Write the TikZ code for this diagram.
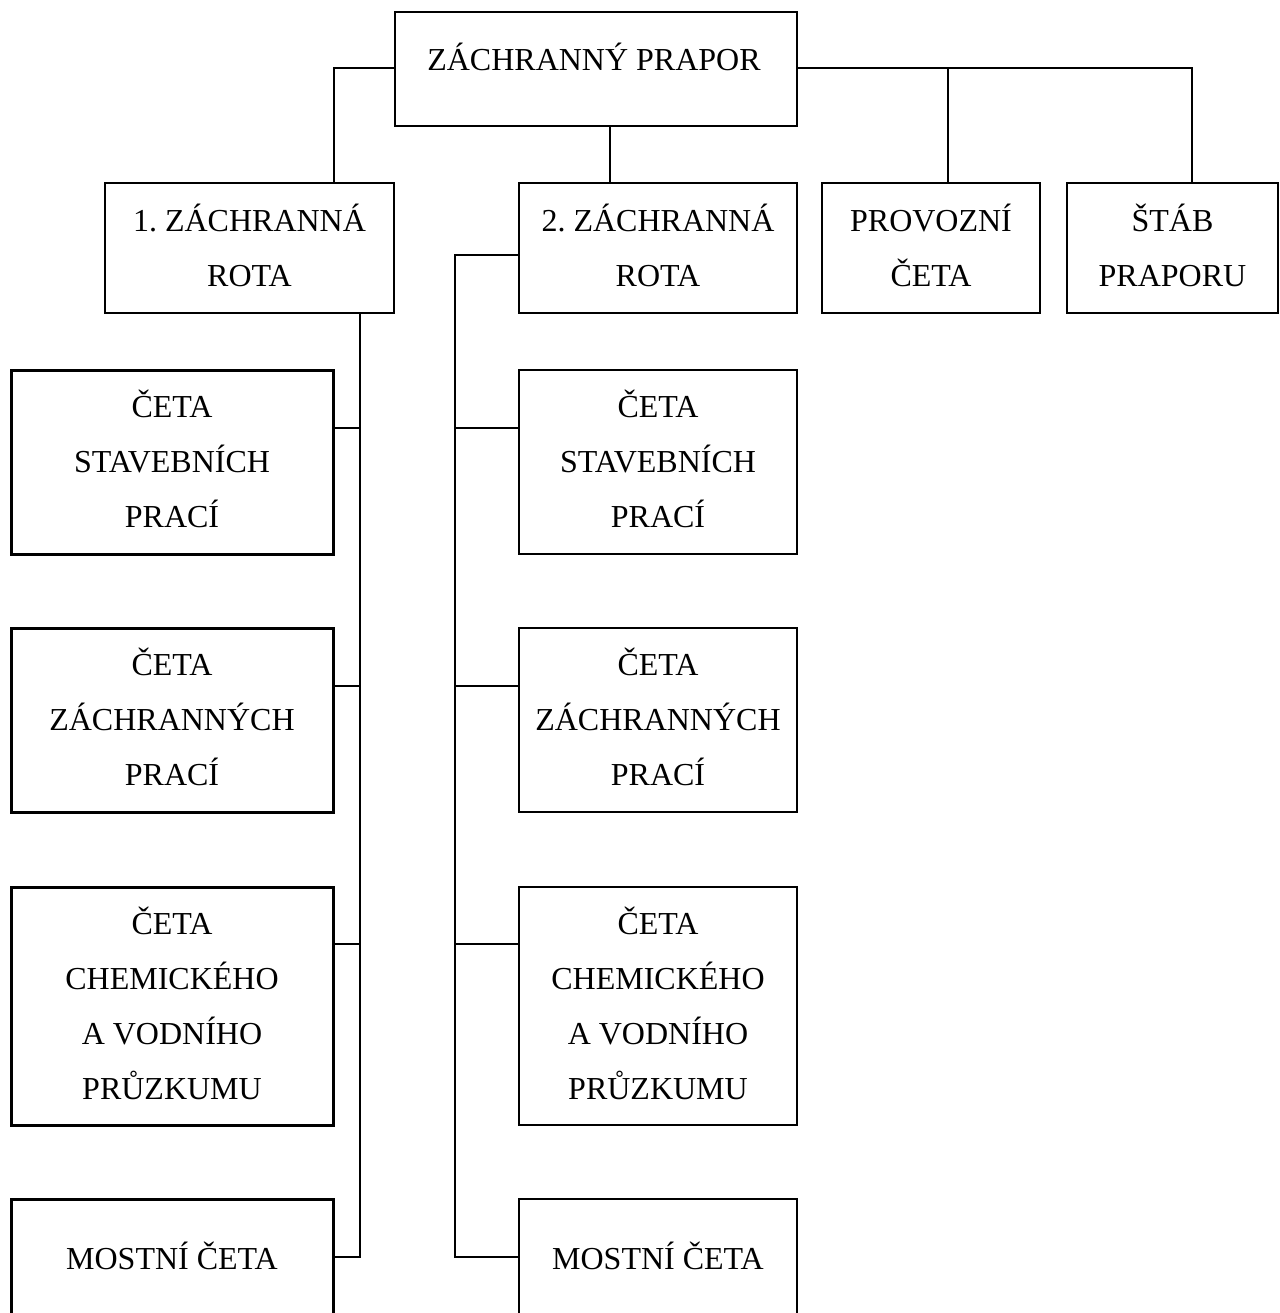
\documentclass[tikz,border=0pt]{standalone}
\usepackage{fontspec}
\setmainfont{Liberation Serif}
\frenchspacing
\newcommand\mystrut{\rule[-0.24em]{0pt}{1.14em}}
\begin{document}
\begin{tikzpicture}[x=0.5pt,y=-0.5pt,
  box/.style={draw=black,line width=1pt,inner sep=0pt,align=center,
    font=\fontsize{16pt}{27.5pt}\selectfont},
  boxL/.style={box,line width=1.5pt},
  conn/.style={draw=black,line width=1pt}]
\useasboundingbox (0,0) rectangle (1280,1313);
\clip (0,0) rectangle (1280,1313);
% top level
\node[box,minimum width=201pt,minimum height=57pt] (top) at (596,69) {};
\node[inner sep=0pt,font=\fontsize{16pt}{27.5pt}\selectfont] (toptext) at (594,60) {\mystrut ZÁCHRANNÝ PRAPOR};
% second row
\node[box,minimum width=144.5pt,minimum height=65pt] (r1) at (249.5,248) {\mystrut 1.\ ZÁCHRANNÁ\\\mystrut ROTA};
\node[box,minimum width=139pt,minimum height=65pt] (r2) at (658,248) {\mystrut 2.\ ZÁCHRANNÁ\\\mystrut ROTA};
\node[box,minimum width=109pt,minimum height=65pt] (prov) at (931,248) {\mystrut PROVOZNÍ\\\mystrut ČETA};
\node[box,minimum width=105.5pt,minimum height=65pt] (stab) at (1172.5,248) {\mystrut ŠTÁB\\\mystrut PRAPORU};
% left column
\node[boxL,minimum width=161pt,minimum height=92pt] (L1) at (172,462) {\mystrut ČETA\\\mystrut STAVEBNÍCH\\\mystrut PRACÍ};
\node[boxL,minimum width=161pt,minimum height=92pt] (L2) at (172,720) {\mystrut ČETA\\\mystrut ZÁCHRANNÝCH\\\mystrut PRACÍ};
\node[boxL,minimum width=161pt,minimum height=119pt] (L3) at (172,1006) {\mystrut ČETA\\\mystrut CHEMICKÉHO\\\mystrut A VODNÍHO\\\mystrut PRŮZKUMU};
\node[boxL,minimum width=161pt,minimum height=60pt] (L4) at (172,1259) {\mystrut MOSTNÍ ČETA};
% right column
\node[box,minimum width=139pt,minimum height=92pt] (R1) at (658,462) {\mystrut ČETA\\\mystrut STAVEBNÍCH\\\mystrut PRACÍ};
\node[box,minimum width=139pt,minimum height=92pt] (R2) at (658,720) {\mystrut ČETA\\\mystrut ZÁCHRANNÝCH\\\mystrut PRACÍ};
\node[box,minimum width=139pt,minimum height=119pt] (R3) at (658,1006) {\mystrut ČETA\\\mystrut CHEMICKÉHO\\\mystrut A VODNÍHO\\\mystrut PRŮZKUMU};
\node[box,minimum width=139pt,minimum height=60pt] (R4) at (658,1259) {\mystrut MOSTNÍ ČETA};
% top connectors
\draw[conn] ([yshift=0.5pt]top.west) -| ([xshift=-30.5pt]r1.north east);
\coordinate (c2) at ([xshift=7pt]top.south);
\draw[conn] (c2) -- (c2 |- r2.north);
\draw[conn] ([yshift=0.5pt]top.east) -| ([xshift=9.75pt]stab.north);
\coordinate (c3) at ([xshift=8.5pt]prov.north);
\draw[conn] (c3) -- (c3 |- top.east);
% left trunk
\coordinate (t1) at ([xshift=-17.5pt]r1.south east);
\coordinate (a1) at ([yshift=17pt]L1.east);
\coordinate (a2) at ([yshift=17pt]L2.east);
\coordinate (a3) at ([yshift=31pt]L3.east);
\coordinate (a4) at ([yshift=1pt]L4.east);
\draw[conn] (t1) |- (a4);
\draw[conn] (a1) -- (a1 -| t1);
\draw[conn] (a2) -- (a2 -| t1);
\draw[conn] (a3) -- (a3 -| t1);
% right trunk
\coordinate (s0) at ([yshift=-3.5pt]r2.west);
\coordinate (t2) at ([xshift=-31.5pt]s0);
\coordinate (b1) at ([yshift=17pt]R1.west);
\coordinate (b2) at ([yshift=17pt]R2.west);
\coordinate (b3) at ([yshift=31pt]R3.west);
\coordinate (b4) at ([yshift=1pt]R4.west);
\draw[conn] (s0) -- (t2) |- (b4);
\draw[conn] (b1) -- (b1 -| t2);
\draw[conn] (b2) -- (b2 -| t2);
\draw[conn] (b3) -- (b3 -| t2);
\end{tikzpicture}
\end{document}
